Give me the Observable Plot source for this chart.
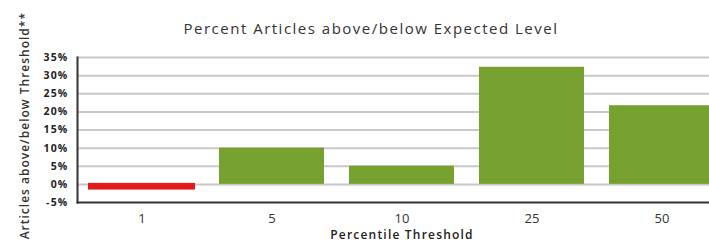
<!DOCTYPE html>
<html>
<head>
<meta charset="utf-8">
<script src="https://cdn.jsdelivr.net/npm/d3@7"></script>
<script src="https://cdn.jsdelivr.net/npm/@observablehq/plot@0.6"></script>
<style>
  html, body { margin: 0; padding: 0; background: #fff; overflow: hidden; width: 709px; height: 242px; }
  #wrap { position: relative; width: 740px; height: 242px; font-family: "Open Sans", sans-serif; }
  #title { position: absolute; left: 0; top: 18px; width: 742px; text-align: center; font-size: 15px; line-height: 20px; letter-spacing: 1.5px; color: #333; z-index: 2; }
  #ylabel { position: absolute; left: 17px; top: 12px; line-height: 15px; writing-mode: vertical-rl; transform: rotate(180deg); white-space: nowrap; font-size: 12px; font-weight: 600; letter-spacing: 1px; color: #333; z-index: 2; }
  #xlabel { position: absolute; left: 77px; width: 650px; top: 228px; text-align: center; font-size: 12px; line-height: 13px; font-weight: 600; letter-spacing: 1.2px; color: #222; z-index: 2; }
  #chart { position: absolute; left: 0; top: 44px; z-index: 1; }
</style>
</head>
<body>
<div id="wrap">
  <div id="chart"></div>
  <div id="title">Percent Articles above/below Expected Level</div>
  <div id="ylabel">Articles above/below Threshold**</div>
  <div id="xlabel">Percentile Threshold</div>
</div>
<script>
const categories = ["1", "5", "10", "25", "50"];
const values = [-1.3, 10, 5, 32.3, 21.7];
const yTicks = [-5, 0, 5, 10, 15, 20, 25, 30, 35];
const gridTicks = [0, 5, 10, 15, 20, 25, 30, 35];

const data = categories.map((c, i) => ({cat: c, value: values[i]}));

const plot = Plot.plot({
  width: 740,
  height: 198,
  marginLeft: 77,
  marginRight: 13,
  marginTop: 13,
  marginBottom: 40,
  style: {fontFamily: "Open Sans, sans-serif", fontSize: "10px", color: "#222", background: "transparent"},
  x: {domain: categories, paddingInner: 0.19, paddingOuter: 0.095, label: null},
  y: {domain: [-5, 35], label: null},
  marks: [
    Plot.gridY(gridTicks, {stroke: "#c8c8c8", strokeWidth: 2, strokeOpacity: 1}),
    Plot.barY(data, {
      x: "cat",
      y: "value",
      fill: d => d.value < 0 ? "#e3191b" : "#76a12e",
      stroke: d => d.value < 0 ? "#e3191b" : "none",
      strokeWidth: 2
    }),
    Plot.axisY({ticks: yTicks, tickSize: 0, tickPadding: 9, tickFormat: d => d + "%", fontWeight: "bold", fontSize: 10.5, label: null}),
    Plot.axisX({tickSize: 0, tickPadding: 11, fontSize: 13, label: null, fill: "#333"}),
    Plot.frame({anchor: "left", stroke: "#333", strokeWidth: 2}),
    Plot.frame({anchor: "bottom", stroke: "#333", strokeWidth: 2})
  ]
});
plot.querySelectorAll("g[aria-label='y-axis tick label']").forEach(el => el.setAttribute("letter-spacing", "1.2"));
document.getElementById("chart").appendChild(plot);
</script>
</body>
</html>
